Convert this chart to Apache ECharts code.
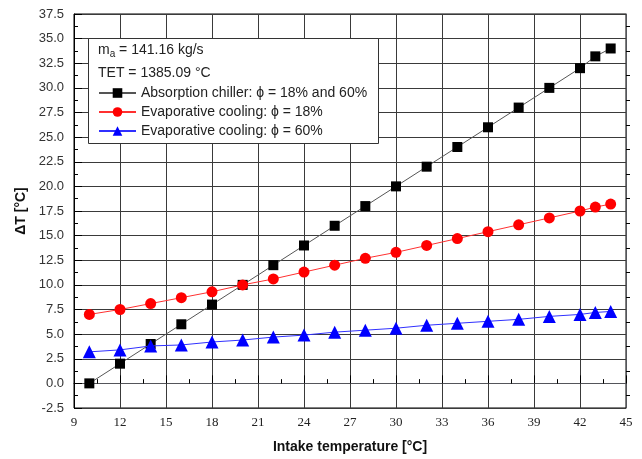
<!DOCTYPE html>
<html><head><meta charset="utf-8">
<script src="https://cdn.jsdelivr.net/npm/echarts@6/dist/echarts.min.js"></script>
<style>html,body{margin:0;padding:0;background:#fff}#c{width:642px;height:459px}</style>
</head><body><div id="c"></div>
<script>
const xValues = [10,12,14,16,18,20,22,24,26,28,30,32,34,36,38,40,42,43,44];
const absorption = [0,2,4,6,8,10,12,14,16,18,20,22,24,26,28,30,32,33.2,34];
const evap18 = [7.0,7.5,8.1,8.7,9.3,10.0,10.6,11.3,12.0,12.7,13.3,14.0,14.7,15.4,16.1,16.8,17.5,17.9,18.2];
const evap60 = [3.2,3.4,3.8,3.9,4.2,4.4,4.7,4.9,5.2,5.4,5.6,5.9,6.1,6.3,6.5,6.8,7.0,7.2,7.3];
const names = ['Absorption chiller: ϕ = 18% and 60%','Evaporative cooling: ϕ = 18%','Evaporative cooling: ϕ = 60%'];

const pair = arr => xValues.map((x,i)=>[x,arr[i]]);
const chart = echarts.init(document.getElementById('c'));
const gridCol = '#3a3a3a';
const mirror = (pos, base) => Object.assign({}, base, {
  position:pos, name:'', axisLabel:{show:false}, splitLine:{show:false},
  axisTick:{show:false}, minorTick:{show:true,splitNumber:2,length:4,lineStyle:{color:'#000'}}
});
const xBase = {type:'value',min:9,max:45,interval:3};
const yBase = {type:'value',min:-2.5,max:37.5,interval:2.5};
chart.setOption({
  animation:false,
  grid:{left:74,right:16,top:14,bottom:51,show:true,borderColor:'#000',borderWidth:1},
  xAxis:[Object.assign({}, xBase, {
    position:'bottom',
    name:'Intake temperature [°C]',nameLocation:'middle',nameGap:32,
    nameTextStyle:{fontFamily:'Liberation Sans',fontWeight:'bold',fontSize:14,color:'#111'},
    axisLine:{lineStyle:{color:'#000'}},
    axisTick:{inside:true,length:8,lineStyle:{color:'#000'}},
    minorTick:{show:true,splitNumber:2,length:4,lineStyle:{color:'#000'}},
    axisLabel:{fontFamily:'Liberation Serif',fontSize:13,color:'#222',margin:8},
    splitLine:{show:true,lineStyle:{color:gridCol,width:1}}
  }), mirror('top', xBase)],
  yAxis:[Object.assign({}, yBase, {
    position:'left',
    name:'ΔT [°C]',nameLocation:'middle',nameGap:42,nameRotate:90,
    nameTextStyle:{fontFamily:'Liberation Sans',fontWeight:'bold',fontSize:14,color:'#111'},
    axisLine:{lineStyle:{color:'#000'}},
    axisTick:{inside:true,length:8,lineStyle:{color:'#000'}},
    minorTick:{show:true,splitNumber:2,length:4,lineStyle:{color:'#000'}},
    axisLabel:{fontFamily:'Liberation Sans',fontSize:13,color:'#333',margin:10,formatter:v=>v.toFixed(1)},
    splitLine:{show:true,lineStyle:{color:gridCol,width:1}}
  }), mirror('right', yBase)],
  legend:{orient:'vertical',left:93,top:81,itemGap:5,itemWidth:37,itemHeight:12,z:120,
    textStyle:{fontFamily:'Liberation Sans',fontSize:14,color:'#222'},
    data:names},
  graphic:[
    {type:'rect',left:88,top:38,shape:{width:290,height:105},style:{fill:'#fff',stroke:'#333',lineWidth:1},z:90},
    {type:'text',left:98,top:43,z:100,style:{
      text:'{m|m}{s|a}{m| = 141.16 kg/s}',
      rich:{m:{fontFamily:'Liberation Sans',fontSize:14,fill:'#222'},s:{fontFamily:'Liberation Sans',fontSize:10,fill:'#222',padding:[8,0,0,0]}}}},
    {type:'text',left:98,top:66,z:100,style:{text:'TET = 1385.09 °C',font:'14px Liberation Sans',fill:'#222'}}
  ],
  series:[
    {name:names[0],type:'line',data:pair(absorption),symbol:'rect',symbolSize:10,
      lineStyle:{color:'#555',width:1},itemStyle:{color:'#000'},z:3},
    {name:names[1],type:'line',data:pair(evap18),symbol:'circle',symbolSize:11,
      lineStyle:{color:'#ff3030',width:1},itemStyle:{color:'#ff0000'},z:4},
    {name:names[2],type:'line',data:pair(evap60),symbol:'triangle',symbolSize:13,
      lineStyle:{color:'#3030ff',width:1},itemStyle:{color:'#0000ff'},z:5}
  ]
});
</script></body></html>
